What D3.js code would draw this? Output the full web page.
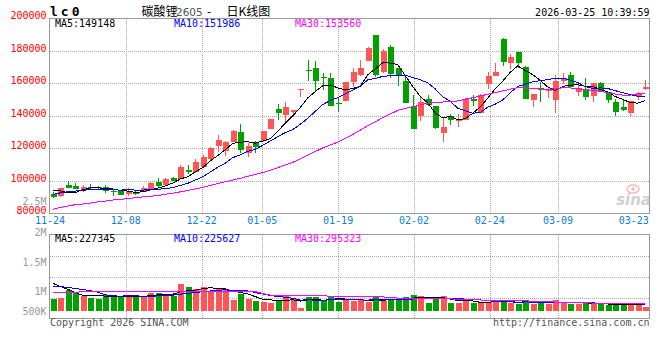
<!DOCTYPE html>
<html><head><meta charset="utf-8">
<script src="https://cdn.jsdelivr.net/npm/d3@7"></script>
<style>body{margin:0;background:#fff}svg{display:block}</style>
</head><body><svg id="c" width="660" height="360"></svg>
<script>
// ---------- DATA ----------
const dates = ["11-24","11-25","11-26","11-27","11-28","12-01","12-02","12-03","12-04","12-05",
"12-08","12-09","12-10","12-11","12-12","12-15","12-16","12-17","12-18","12-19",
"12-22","12-23","12-24","12-25","12-26","12-29","12-30","12-31","01-05","01-06",
"01-07","01-08","01-09","01-12","01-13","01-14","01-15","01-16","01-19","01-20",
"01-21","01-22","01-23","01-26","01-27","01-28","01-29","01-30","02-02","02-03",
"02-04","02-05","02-06","02-09","02-10","02-11","02-12","02-13","02-24","02-25",
"02-26","02-27","03-02","03-03","03-04","03-05","03-06","03-09","03-10","03-11",
"03-12","03-13","03-16","03-17","03-18","03-19","03-20","03-23","03-24","03-25"];
const open = [91800,90400,97500,96900,94500,96400,96300,96300,93900,93500,
91700,93300,93300,95100,99300,97300,101900,101400,106600,105500,
108800,113500,121500,118500,124200,130200,117000,123000,124600,132000,
144300,140600,142300,156500,168100,169700,164100,163500,148200,149400,
160700,164900,174000,189800,166800,182400,169400,161600,146100,140100,
150300,146100,129300,139800,137100,137500,150200,142000,159700,164800,
187400,172600,179400,170100,149800,157000,155600,149800,161700,165200,
154800,156000,152500,160300,154600,148400,145500,141600,151900,156400];
const high = [93000,95800,100000,98600,97300,98200,97000,97200,94800,94000,
95300,94000,96600,99200,101600,101800,102500,109800,109800,113300,
116200,121100,128100,124400,131400,135100,123200,124400,130800,138100,
147400,148800,143900,156700,174500,173600,166200,166200,151900,160900,
169700,174500,182700,189800,181000,183700,169400,163800,152900,151900,
152700,146100,138600,141000,141000,151100,152900,153500,166900,172400,
188200,177900,179800,170800,153700,161100,158000,165200,166500,167300,
159900,163200,160100,160700,154600,150300,150300,149400,155000,162200];
const low = [89500,90000,95300,94900,93400,94300,94900,92300,90900,91200,
90800,91000,92900,94800,96300,96900,99600,101000,104300,105100,
108400,113100,117800,115400,123800,117400,114800,117400,124200,132000,
137500,136500,139200,151900,161300,155000,155800,146100,142100,149200,
158000,164700,173700,163700,166400,163400,158700,148200,132100,137100,
145800,132000,123800,134700,133000,137300,146100,141600,156800,164600,
171000,168700,169700,150200,145500,148800,151300,142000,159500,157400,
152300,149800,148800,154600,147800,140200,143100,140200,149800,156000];
const close = [90200,95500,95700,95100,96100,95800,95700,94000,93300,91400,
94000,91700,95800,98700,97100,101100,100200,108600,105700,111700,
114800,120500,125200,124000,130800,118700,121500,121100,130400,138100,
142000,145500,143700,156600,167500,161700,163300,146400,147400,160900,
167000,169600,181800,165400,180100,166000,165100,148200,132200,148800,
146600,132600,133400,137300,137900,150200,149400,152700,164600,167100,
173400,176500,172400,150700,153700,156000,156400,161500,163200,157600,
157200,151900,160100,155000,149800,142700,143700,149400,153900,157600];
const ma5 = [93900,93800,92700,92800,94520,95640,95680,95340,94980,94040,
93680,92880,93240,94320,95460,96880,98580,101140,102540,105460,
108200,112260,115580,119240,123060,123840,124040,123220,124500,125960,
130620,135420,139940,145180,151060,155000,158540,159080,157240,155920,
156960,158220,165300,168940,172760,172540,171560,164840,158160,151920,
148080,141680,138720,139740,137560,138280,141640,145500,150960,156800,
161440,166860,170800,168020,165340,161860,157840,155660,158160,158940,
159180,158280,158000,156360,154800,151900,150260,148120,147900,149460];
const ma10 = [91500,92600,93300,93700,94100,94700,94800,94700,94500,94280,
94660,94280,94290,94650,94750,95280,95730,97190,98430,100460,
102540,105420,108360,110890,114260,116020,118150,119400,121870,124510,
127230,129730,131580,134840,138510,142810,146980,149510,151210,153490,
155980,158380,162190,163090,164340,164750,164890,165070,163550,162340,
160310,156620,151780,148950,144740,143180,141660,142110,145350,147180,
149860,154250,158150,159490,161070,161650,162350,163230,163090,162140,
160520,158060,156830,157260,156870,155540,154270,153060,152130,152130];
const ma30 = [82500,83500,84500,85300,85700,86300,87000,87500,88200,88600,
89000,89600,90100,90500,91000,91700,92400,93200,94100,95000,
96000,97200,98300,99400,100500,101500,102800,104000,105000,106420,
108140,109810,111410,113460,115840,118040,120290,122030,123840,126150,
128580,131180,134040,136270,139040,141190,143340,144660,145540,146780,
147840,148240,148520,148960,149200,150250,151180,152230,153370,154340,
155380,156420,157370,157180,156720,156530,156300,156800,157330,157220,
156900,156310,155590,155230,154230,153460,152760,152800,153520,153820];
const volume = [410000,445000,710000,605000,515000,455000,410000,550000,515000,490000,
515000,465000,515000,630000,630000,585000,515000,935000,815000,745000,
830000,690000,795000,760000,375000,585000,410000,340000,305000,270000,
375000,535000,410000,95000,490000,465000,375000,490000,315000,395000,
350000,395000,290000,465000,340000,420000,395000,480000,550000,515000,
280000,445000,515000,270000,280000,350000,280000,290000,305000,315000,
375000,255000,235000,375000,245000,255000,235000,375000,270000,235000,
235000,280000,235000,235000,185000,235000,235000,255000,255000,140000];
const volMa5 = [960000,850000,750000,640000,537000,546000,539000,507000,489000,484000,
496000,507000,500000,523000,551000,565000,575000,659000,696000,719000,
768000,803000,775000,764000,690000,641000,585000,494000,403000,382000,
340000,365000,379000,337000,381000,399000,367000,383000,427000,408000,
385000,389000,349000,379000,368000,382000,382000,420000,437000,472000,
444000,454000,461000,405000,358000,372000,339000,294000,301000,308000,
313000,308000,297000,311000,297000,273000,269000,297000,276000,274000,
270000,279000,251000,244000,234000,234000,225000,229000,233000,224000];
const volMa10 = [860000,840000,815000,780000,740000,700000,650000,560000,520000,510500,
521000,523000,503500,506000,517500,530500,541000,579500,609500,635000,
666500,689000,717000,730000,704500,704500,694000,634500,583500,536000,
490500,475000,436500,370000,381500,369500,366000,381000,382000,394500,
392000,378000,366000,403000,388000,383500,385500,384500,408000,420000,
413000,418000,440500,421000,415000,408000,396500,377500,353000,333000,
342500,323500,295500,306000,302500,293000,288500,297000,293500,285500,
271500,274000,274000,260000,254000,252000,252000,240000,238500,229000];
const volMa30 = [630000,630000,632000,640000,668000,670000,672000,672000,672000,673000,
673000,673000,674000,674000,674000,675000,675000,675000,675000,676000,
676000,676000,675000,675000,674000,673000,672000,670000,600000,548000,
546000,545000,544000,543000,542000,540000,535000,500000,495000,492000,
490000,490000,488000,486000,482000,470000,440000,432000,428000,425000,
424000,422000,420000,415000,400000,385000,380000,375000,352000,348000,
345000,343000,342000,340000,338000,330000,310000,303000,300000,296000,
292000,275000,268000,265000,262000,260000,255000,252000,250000,250000];
const priceTicks = [80000,100000,120000,140000,160000,180000,200000];
const volTickValues = [2500000,2000000,1500000,1000000,500000];
const volTickLabels = ["2.5M","2M","1.5M","1M","500K"];
const dateTicks = ["11-24","12-08","12-22","01-05","01-19","02-02","02-24","03-09","03-23"];
const mainLegend = ["MA5:149148","MA10:151986","MA30:153560"];
const volLegend = ["MA5:227345","MA10:225627","MA30:295323"];
const symbol = "lc0";
const titleCN = ["碳酸锂","2605","-","日K线图"];
const timestamp = "2026-03-25 10:39:59";

// ---------- LAYOUT ----------
const svg = d3.select("#c");
const L = 50, R = 649;
const mainTop = 18.5, mainBot = 213.3;
const volTop = 234.5, volBot = 318.5, volBase = 310.7;
const RED = "#ff5555", GREEN = "#00a000";
const MONO = "'DejaVu Sans Mono','Liberation Mono',monospace";
const CJK = "'Noto Sans CJK SC','Noto Sans',sans-serif";
const maColors = ["#000000","#0000ff","#ff00ff"];
const legendX = [55, 174, 295];

const x = d3.scaleBand().domain(d3.range(dates.length)).range([L - 1, R]);
const cx = i => x(i) + x.bandwidth() / 2;
const gx = d3.scaleLinear().domain([0, dates.length - 1]).range([L, R]);
const y = d3.scaleLinear().domain([80000, 200000]).range([mainBot, mainTop]);
const vy = d3.scaleLinear().domain([0, 1000000]).range([volBase, volBase - 28.57]);
const vLabelY = d3.scaleLinear().domain([1000000, 2000000]).range([290.7, 232]);

const tickIdx = dateTicks.map(d => dates.indexOf(d));
const innerIdx = tickIdx.filter(i => i > 0 && i < dates.length - 3);

// ---------- GRID ----------
const grid = svg.append("g").attr("stroke", "#aaa").attr("stroke-dasharray", "1,1")
  .attr("shape-rendering", "crispEdges");
grid.selectAll(".hg").data(priceTicks.filter(v => v > 80000 && v < 200000)).join("line")
  .attr("x1", L).attr("x2", R).attr("y1", d => Math.round(y(d)) + 0.5).attr("y2", d => Math.round(y(d)) + 0.5);
grid.selectAll(".vg").data(innerIdx).join("line")
  .attr("x1", d => Math.round(gx(d)) + 0.5).attr("x2", d => Math.round(gx(d)) + 0.5)
  .attr("y1", mainTop).attr("y2", mainBot);
const volGridY = d3.range(1, 4).map(k => volTop + k * (volBot - volTop) / 4);
grid.selectAll(".vhg").data(volGridY).join("line")
  .attr("x1", L).attr("x2", R).attr("y1", d => Math.round(d) + 0.5).attr("y2", d => Math.round(d) + 0.5);
grid.selectAll(".vvg").data(innerIdx).join("line")
  .attr("x1", d => Math.round(gx(d)) + 0.5).attr("x2", d => Math.round(gx(d)) + 0.5)
  .attr("y1", volTop).attr("y2", volBot);

// ---------- BORDERS ----------
svg.append("rect").attr("x", L - 0.5).attr("y", mainTop).attr("width", R - L + 1).attr("height", mainBot - mainTop)
  .attr("fill", "none").attr("stroke", "#999").attr("shape-rendering", "crispEdges");
svg.append("rect").attr("x", L - 0.5).attr("y", volTop).attr("width", R - L + 1).attr("height", volBot - volTop)
  .attr("fill", "none").attr("stroke", "#999").attr("shape-rendering", "crispEdges");

// ---------- SINA WATERMARK ----------
const wm = svg.append("g").attr("opacity", 0.55);
wm.append("ellipse").attr("cx", 633).attr("cy", 189).attr("rx", 6).attr("ry", 4)
  .attr("fill", "none").attr("stroke", "#f08080").attr("stroke-width", 1.5);
wm.append("circle").attr("cx", 633).attr("cy", 189).attr("r", 1.8).attr("fill", "#f08080");
wm.append("text").attr("x", 651).attr("y", 205).attr("text-anchor", "end")
  .attr("font-family", "'DejaVu Sans',sans-serif").attr("font-weight", "bold").attr("font-style", "italic")
  .attr("font-size", 15).attr("fill", "#aaa").text("sina");

// ---------- CANDLES ----------
const idx = d3.range(dates.length);
const up = i => close[i] >= open[i];
const cg = svg.append("g").attr("shape-rendering", "crispEdges");
cg.selectAll(".wick").data(idx).join("line")
  .attr("x1", i => Math.round(cx(i)) + 0.5).attr("x2", i => Math.round(cx(i)) + 0.5)
  .attr("y1", i => y(high[i])).attr("y2", i => y(low[i]))
  .attr("stroke", i => up(i) ? RED : GREEN);
cg.selectAll(".body").data(idx).join("rect")
  .attr("x", i => Math.round(cx(i)) - 2).attr("width", 6)
  .attr("y", i => y(Math.max(open[i], close[i])))
  .attr("height", i => Math.max(1.2, Math.abs(y(open[i]) - y(close[i]))))
  .attr("fill", i => up(i) ? RED : GREEN);

// ---------- MA LINES ----------
const line = d3.line().x((d, i) => cx(i)).y(d => y(d));
[ma5, ma10, ma30].forEach((s, k) => {
  svg.append("path").attr("d", line(s)).attr("fill", "none").attr("stroke", maColors[k])
    .attr("stroke-width", 1).attr("shape-rendering", "crispEdges");
});

// ---------- VOLUME ----------
const vg = svg.append("g").attr("shape-rendering", "crispEdges");
vg.selectAll("rect").data(idx).join("rect")
  .attr("x", i => Math.round(cx(i)) - 2).attr("width", 6)
  .attr("y", i => vy(volume[i])).attr("height", i => volBase - vy(volume[i]))
  .attr("fill", i => up(i) ? RED : GREEN);
const vline = d3.line().x((d, i) => cx(i)).y(d => vy(d));
[volMa5, volMa10, volMa30].forEach((s, k) => {
  svg.append("path").attr("d", vline(s)).attr("fill", "none").attr("stroke", maColors[k])
    .attr("stroke-width", 1).attr("shape-rendering", "crispEdges");
});

// ---------- TEXT ----------
const t = (xx, yy, str, opts = {}) => svg.append("text").attr("x", xx).attr("y", yy)
  .attr("font-family", opts.ff || MONO).attr("font-size", opts.fs || 10)
  .attr("fill", opts.fill || "#000").attr("text-anchor", opts.anchor || "start")
  .attr("font-weight", opts.fw || "normal").attr("letter-spacing", opts.ls || 0)
  .attr("dominant-baseline", opts.db || "auto").text(str);

// price labels
priceTicks.forEach(v => t(46.5, y(v) - 2.2, String(v), {anchor: "end", fill: "#ff0000", db: "middle"}));
// volume labels (2.5M sits above the panel, 500K clamps to the bar baseline)
volTickValues.forEach((v, k) => {
  const yy = v > 2000000 ? 200.3 : Math.min(vLabelY(v), volBase);
  t(46.5, yy + 1.2, volTickLabels[k], {anchor: "end", fill: "#999", db: "middle"});
});
// date labels
tickIdx.forEach((i, k) => t(gx(i), 223.5, dateTicks[k], {anchor: "middle", fill: "#0a7ed8"}));

// legends
mainLegend.forEach((s, k) => t(legendX[k], 27, s, {fill: maColors[k]}));
volLegend.forEach((s, k) => t(legendX[k], 241.5, s, {fill: maColors[k]}));

// header
t(50, 15.6, symbol, {fs: 13, fw: "bold", ls: 3});
t(141.5, 15.5, titleCN[0], {ff: CJK, fs: 12});
t(176, 15.5, titleCN[1], {ff: "'DejaVu Sans',sans-serif", fs: 10.5, fill: "#555"});
t(207, 15.5, titleCN[2], {ff: CJK, fs: 12});
t(226.5, 15.5, titleCN[3], {ff: CJK, fs: 12});
t(649.5, 15.6, timestamp, {anchor: "end"});

// footer
t(50, 325.5, "Copyright 2026 SINA.COM", {fill: "#555"});
t(649.5, 325.5, "http://finance.sina.com.cn", {anchor: "end", fill: "#555"});
</script></body></html>
